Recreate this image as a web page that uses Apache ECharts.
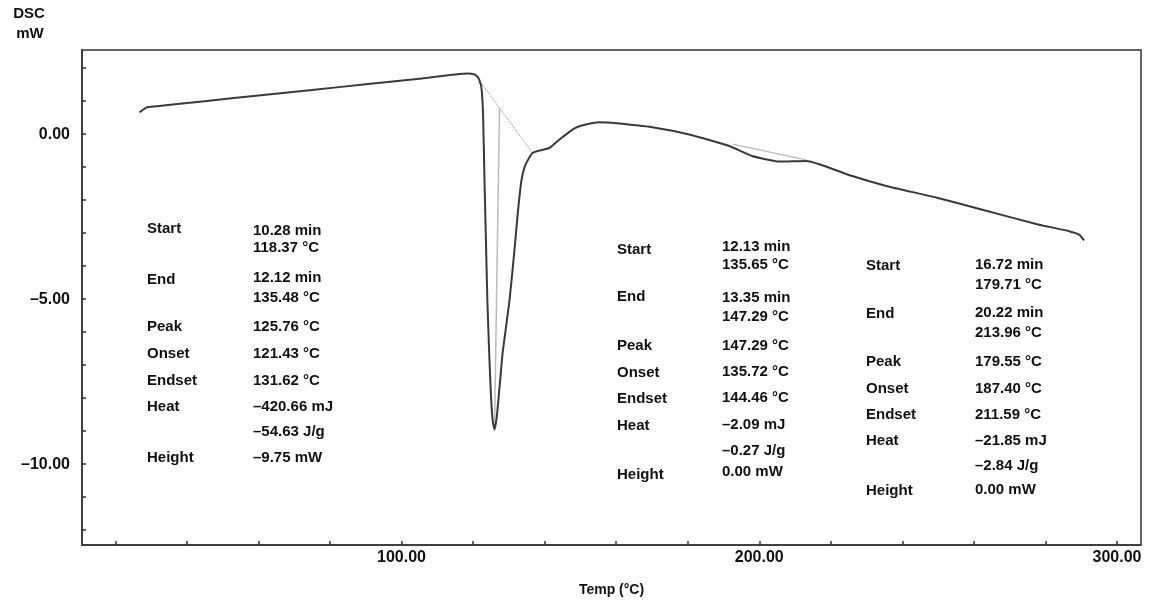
<!DOCTYPE html>
<html>
<head>
<meta charset="utf-8">
<script src="https://cdn.jsdelivr.net/npm/echarts@6/dist/echarts.min.js"></script>
<style>html,body{margin:0;padding:0;background:#fff;}#c{width:1151px;height:600px;}</style>
</head>
<body>
<div id="c"></div>
<script>
// ---- data ----
const tempC = [26.8, 28.8, 31.0, 45, 60, 75, 90, 105, 118.4, 120.4, 121.5, 122.3, 122.8, 123.2, 123.6, 124.0, 124.5, 125.0, 125.5, 126.0, 126.6, 127.3, 128.3, 130.2, 131.5, 132.5, 133.5, 134.4, 135.2, 136.6, 138.5, 141.3, 143.5, 146.1, 148.5, 150.6, 155.3, 160.1, 170.1, 180.4, 191.6, 198.0, 205.6, 213.1, 216.8, 226.0, 235.5, 249.4, 263.4, 277.4, 286.6, 289.5, 290.8];
const dscMW = [0.66, 0.81, 0.84, 1.0, 1.17, 1.34, 1.51, 1.68, 1.84, 1.81, 1.70, 1.45, 0.6, -1.4, -3.2, -5.03, -6.6, -7.9, -8.7, -8.95, -8.6, -7.8, -6.6, -5.03, -3.6, -2.4, -1.42, -1.0, -0.81, -0.57, -0.50, -0.42, -0.22, 0.0, 0.18, 0.27, 0.36, 0.33, 0.21, -0.01, -0.36, -0.66, -0.83, -0.81, -0.91, -1.27, -1.57, -1.92, -2.32, -2.72, -2.94, -3.05, -3.22];
const baseline1T = [122.6, 136.6];
const baseline1Y = [1.51, -0.57];
const peakLineT = [127.4, 126.0];
const peakLineY = [0.81, -8.95];
const baseline2T = [192.5, 213.1];
const baseline2Y = [-0.30, -0.78];
const xTickValues = [20,40,60,80,100,120,140,160,180,200,220,240,260,280,300];
const xLabelValues = [100, 200, 300];
const yTickValues = [-12,-11,-10,-9,-8,-7,-6,-5,-4,-3,-2,-1,0,1,2];
const yLabelValues = [-10, -5, 0];
const rowLabels = ['Start', 'End', 'Peak', 'Onset', 'Endset', 'Heat', 'Height'];
const block1Values = ['10.28 min', '118.37 °C', '12.12 min', '135.48 °C', '125.76 °C', '121.43 °C', '131.62 °C', '–420.66 mJ', '–54.63 J/g', '–9.75 mW'];
const block2Values = ['12.13 min', '135.65 °C', '13.35 min', '147.29 °C', '147.29 °C', '135.72 °C', '144.46 °C', '–2.09 mJ', '–0.27 J/g', '0.00 mW'];
const block3Values = ['16.72 min', '179.71 °C', '20.22 min', '213.96 °C', '179.55 °C', '187.40 °C', '211.59 °C', '–21.85 mJ', '–2.84 J/g', '0.00 mW'];

// ---- layout ----
const FONT = 'bold 15px "Liberation Sans", Arial, sans-serif';
const blocks = [
  {values: block1Values, lx: 147, vx: 253, ly: [229,280,327,354,381,407,458], vy: [231,248,278,298,327,354,381,407,432,458]},
  {values: block2Values, lx: 617, vx: 722, ly: [250,297,346,373,399,426,475], vy: [247,265,298,317,346,372,398,425,451,472]},
  {values: block3Values, lx: 866, vx: 975, ly: [266,314,362,389,415,441,491], vy: [265,285,313,333,362,389,415,441,466,490]}
];
const graphics = [];
function txt(x, y, s, align) {
  graphics.push({type: 'text', x: x, y: y, silent: true,
    style: {text: s, font: FONT, fill: '#111', verticalAlign: 'middle', align: align || 'left'}});
}
blocks.forEach(b => {
  rowLabels.forEach((l, i) => txt(b.lx, b.ly[i], l));
  b.values.forEach((v, i) => txt(b.vx, b.vy[i], v));
});
txt(29, 14, 'DSC', 'center');
txt(30, 34, 'mW', 'center');

const pair = (a, b) => a.map((v, i) => [v, b[i]]);
const fmt = v => (v < 0 ? '–' : '') + Math.abs(v).toFixed(2);

const chart = echarts.init(document.getElementById('c'), null, {renderer: 'canvas'});
chart.setOption({
  animation: false,
  backgroundColor: '#fff',
  grid: {left: 82, right: 10, top: 50, bottom: 55, show: true, borderColor: '#333', borderWidth: 1.5, outerBoundsMode: 'none', containLabel: false},
  xAxis: {
    type: 'value', min: 10.7, max: 306.7,
    name: 'Temp (°C)', nameLocation: 'middle', nameGap: 38,
    nameTextStyle: {fontFamily: '"Liberation Sans", Arial', fontWeight: 'bold', fontSize: 14, color: '#111'},
    axisLine: {show: true, onZero: false, lineStyle: {color: '#333', width: 1.5}},
    axisTick: {show: true, inside: true, length: 4, customValues: xTickValues, lineStyle: {color: '#333', width: 1.5}},
    axisLabel: {customValues: xLabelValues, formatter: fmt, margin: 5, fontFamily: '"Liberation Sans", Arial', fontWeight: 'bold', fontSize: 16, color: '#111'},
    splitLine: {show: false}
  },
  yAxis: {
    type: 'value', min: -12.45, max: 2.55,
    axisLine: {show: true, onZero: false, lineStyle: {color: '#333', width: 1.5}},
    axisTick: {show: true, inside: true, length: 4, customValues: yTickValues, lineStyle: {color: '#333', width: 1.5}},
    axisLabel: {customValues: yLabelValues, formatter: fmt, margin: 12, fontFamily: '"Liberation Sans", Arial', fontWeight: 'bold', fontSize: 16, color: '#111'},
    splitLine: {show: false}
  },
  series: [
    {type: 'line', data: pair(baseline1T, baseline1Y), symbol: 'none', lineStyle: {color: '#aaa', width: 1.2, type: 'dotted'}, z: 1},
    {type: 'line', data: pair(peakLineT, peakLineY), symbol: 'none', lineStyle: {color: '#bbb', width: 1.5}, z: 1},
    {type: 'line', data: pair(baseline2T, baseline2Y), symbol: 'none', lineStyle: {color: '#bbb', width: 1.2}, z: 1},
    {type: 'line', data: pair(tempC, dscMW), symbol: 'none', smooth: 0.15, lineStyle: {color: '#3a3a3a', width: 2}, z: 3}
  ],
  graphic: graphics
});
</script>
</body>
</html>
